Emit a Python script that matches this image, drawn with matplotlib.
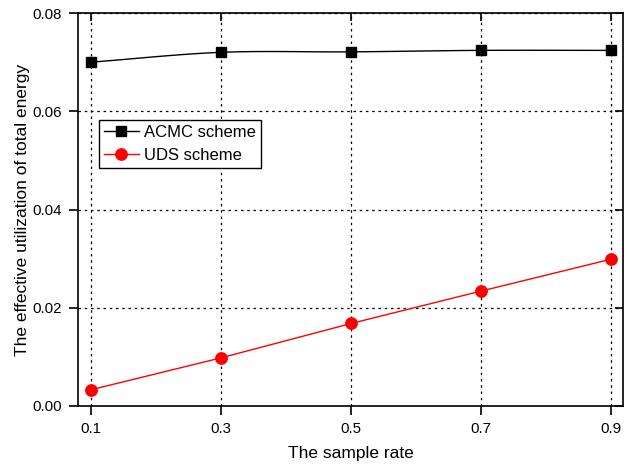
import numpy as np
import matplotlib
matplotlib.use('Agg')
from matplotlib import pyplot as plt

plt.rcParams['font.family'] = ['Liberation Sans', 'DejaVu Sans']

sample_rate = [0.1, 0.3, 0.5, 0.7, 0.9]
acmc = [0.0700, 0.0720, 0.0721, 0.0724, 0.0724]
uds = [0.0033, 0.0098, 0.0168, 0.0234, 0.0299]


def smooth(x, y, n=20):
    # Catmull-Rom pass through the points, like the spline connector in Origin
    x = np.asarray(x, float)
    y = np.asarray(y, float)
    px = np.concatenate([[2 * x[0] - x[1]], x, [2 * x[-1] - x[-2]]])
    py = np.concatenate([[2 * y[0] - y[1]], y, [2 * y[-1] - y[-2]]])
    xs, ys = [], []
    t = np.linspace(0, 1, n)
    for i in range(1, len(px) - 2):
        for p, out in ((px, xs), (py, ys)):
            p0, p1, p2, p3 = p[i - 1], p[i], p[i + 1], p[i + 2]
            out.append(0.5 * (2 * p1 + (-p0 + p2) * t
                              + (2 * p0 - 5 * p1 + 4 * p2 - p3) * t ** 2
                              + (-p0 + 3 * p1 - 3 * p2 + p3) * t ** 3))
    return np.concatenate(xs), np.concatenate(ys)


fig = plt.figure(figsize=(6.36, 4.66), dpi=100)
ax = fig.add_axes([0.1226, 0.1288, 0.857, 0.8432])

sx, sy = smooth(sample_rate, acmc)
ax.plot(sx, sy, color='black', lw=1.0, zorder=3)
ax.plot(sample_rate, acmc, ls='none', marker='s', ms=7.5, color='black', zorder=4)
ax.plot([], [], color='black', lw=1.0, marker='s', ms=7.5, label='ACMC scheme')

ax.plot(sample_rate, uds, color='red', lw=1.0, marker='o', ms=8.2,
        label='UDS scheme', zorder=4)

ax.set_xlim(0.08, 0.918)
ax.set_ylim(0, 0.08)
ax.set_xticks(sample_rate)
ax.set_xticklabels(['0.1', '0.3', '0.5', '0.7', '0.9'])
ax.set_yticks([0, 0.02, 0.04, 0.06, 0.08])
ax.set_yticklabels(['0.00', '0.02', '0.04', '0.06', '0.08'])

ax.grid(True, color='black', ls=(0, (2, 3)), lw=0.9)
ax.tick_params(axis='both', which='major', direction='out', length=6.5,
               width=1.2, labelsize=10.8, pad=5)
# inward ticks on the top and right frame
ax.tick_params(top=True, right=True)
for t in ax.xaxis.get_major_ticks():
    t.tick2line.set_marker(3)
    t.tick2line.set_markersize(6)
for t in ax.yaxis.get_major_ticks():
    t.tick2line.set_marker(0)
    t.tick2line.set_markersize(6)
for s in ax.spines.values():
    s.set_linewidth(1.2)

ax.set_xlabel('The sample rate', fontsize=12.5, labelpad=7)
ax.set_ylabel('The effective utilization of total energy', fontsize=12.5, labelpad=2)

leg = ax.legend(loc='upper left', bbox_to_anchor=(0.038, 0.727), borderaxespad=0,
                fontsize=12, fancybox=False, framealpha=1, edgecolor='black',
                handlelength=2.1, borderpad=0.3, labelspacing=0.45, handletextpad=0.3)
leg.get_frame().set_linewidth(1.0)

fig.savefig('out.png', dpi=100)
